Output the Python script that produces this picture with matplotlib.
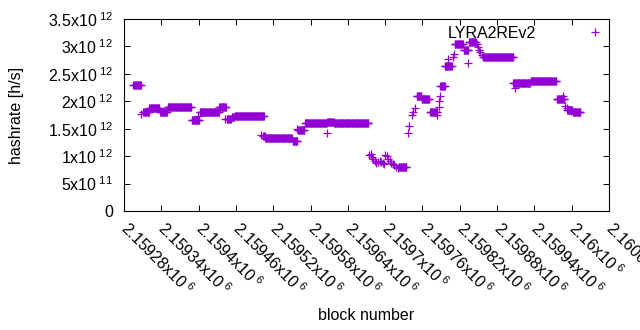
import numpy as np
import matplotlib.pyplot as plt

plt.rcParams['font.family'] = 'Liberation Sans'
plt.rcParams['mathtext.fontset'] = 'custom'
plt.rcParams['mathtext.rm'] = 'Liberation Sans'
plt.rcParams['mathtext.it'] = 'Liberation Sans'
plt.rcParams['mathtext.default'] = 'regular'

# flat stretches of the hashrate: first block, last block, level (x1e12 h/s)
run_start = [2159295, 2159311, 2159321, 2159338, 2159350, 2159389, 2159402,
             2159433, 2159445, 2159453, 2159458, 2159504, 2159507, 2159551,
             2159560, 2159571, 2159607, 2159618, 2159722, 2159751, 2159759,
             2159772, 2159789, 2159796, 2159812, 2159826, 2159835, 2159858,
             2159906, 2159934, 2159976, 2159993, 2160002]
run_end = [2159307, 2159320, 2159337, 2159349, 2159388, 2159401, 2159432,
           2159444, 2159452, 2159457, 2159505, 2159506, 2159550, 2159559,
           2159570, 2159606, 2159617, 2159673, 2159734, 2159758, 2159771,
           2159783, 2159796, 2159807, 2159825, 2159834, 2159846, 2159906,
           2159933, 2159975, 2159988, 2160001, 2160014]
run_level = [2.29, 1.81, 1.87, 1.80, 1.89, 1.66, 1.80,
             1.90, 1.67, 1.72, 1.74, 1.37, 1.325, 1.28,
             1.48, 1.60, 1.63, 1.61, 0.80, 2.10, 2.05,
             1.81, 2.27, 2.64, 3.04, 2.93, 3.08, 2.81,
             2.33, 2.37, 2.05, 1.85, 1.80]

# single blocks in between
pt_block = [2159308, 2159399, 2159442, 2159501, 2159558, 2159606,
            2159674, 2159677, 2159679, 2159681, 2159683, 2159686, 2159688,
            2159691, 2159694, 2159696, 2159698, 2159700, 2159703, 2159705,
            2159708, 2159710, 2159712, 2159715, 2159718, 2159720,
            2159737, 2159739, 2159743, 2159745, 2159748, 2159784,
            2159786, 2159787, 2159788, 2159801, 2159809, 2159810, 2159834,
            2159847, 2159849, 2159851, 2159853, 2159856, 2159909, 2159986,
            2159989, 2159992, 2159996, 2159999]
pt_level = [1.76, 1.74, 1.68, 1.39, 1.49, 1.43,
            1.02, 1.03, 0.98, 0.95, 0.91, 0.875, 0.89,
            0.91, 0.89, 0.87, 0.85, 1.02, 1.00, 0.95,
            0.91, 0.88, 0.86, 0.84, 0.81, 0.79,
            1.42, 1.555, 1.75, 1.81, 1.87, 1.75,
            1.90, 2.01, 2.10, 2.77, 2.81, 2.87, 2.69,
            3.04, 2.99, 2.93, 2.90, 2.84, 2.25, 2.10,
            1.91, 1.88, 1.84, 1.82]

x_ticks = np.arange(2159280, 2160061, 60)
y_ticks = np.arange(0, 3.51e12, 0.5e12)

blocks = list(pt_block)
rates = list(pt_level)
for s, e, v in zip(run_start, run_end, run_level):
    for b in range(s, e + 1):
        blocks.append(b)
        rates.append(v)
blocks = np.array(blocks)
rates = np.array(rates) * 1e12
order = np.argsort(blocks)


def sci(v):
    if v == 0:
        return '0'
    e = int(np.floor(np.log10(v) + 1e-9))
    return r'$%gx10^{\ %d}$' % (round(v / 10**e, 6), e)


fs = 11.5
fig = plt.figure(figsize=(6.4, 3.3), dpi=100)
ax = fig.add_axes([124/640, 119/330, 485/640, 192/330])
ax.plot(blocks[order], rates[order], '+', color='#9400d3', ms=5.5, mew=0.9,
        linestyle='none', label='LYRA2REv2')

ax.set_xlim(2159280, 2160060)
ax.set_ylim(0, 3.5e12)
ax.set_xticks(x_ticks)
ax.set_xticklabels([sci(t) for t in x_ticks], rotation=-45, ha='left',
                   va='center', rotation_mode='anchor')
ax.set_yticks(y_ticks)
ax.set_yticklabels([sci(t) for t in y_ticks])
ax.tick_params(direction='in', top=True, right=True, length=4, width=0.7,
               labelsize=fs, colors='black')
ax.tick_params(axis='y', pad=8)
ax.tick_params(axis='x', pad=10)
for sp in ax.spines.values():
    sp.set_linewidth(0.8)

ax.legend(loc='upper right', bbox_to_anchor=(1, 0.965), markerfirst=False,
          frameon=False, handlelength=1.8, handletextpad=2.75, borderpad=0,
          borderaxespad=0, fontsize=fs)

fig.text(366/640, 1 - 315/330, 'block number', ha='center', va='center',
         fontsize=fs)
fig.text(17/640, 1 - 115/330, 'hashrate [h/s]', ha='center', va='center',
         rotation=90, fontsize=fs)

fig.savefig('out.png', dpi=100)
